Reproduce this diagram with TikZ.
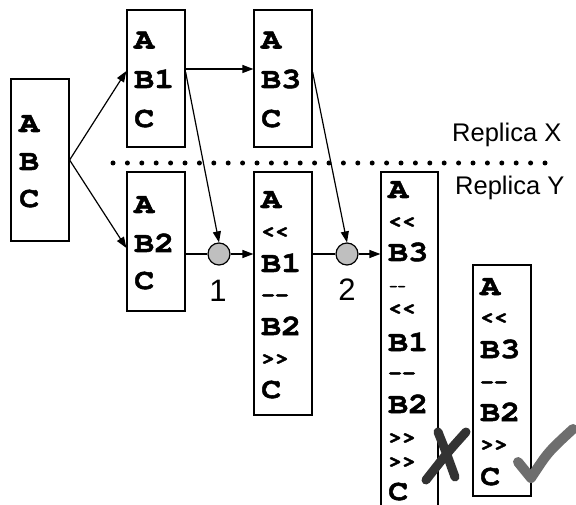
\documentclass[tikz,border=0pt]{standalone}
\usepackage{fontspec}
\newfontfamily\sansf{Liberation Sans}
\newfontfamily\crb[FakeStretch=1.15,FakeBold=1.8]{texgyrecursor-bold.otf}
\newcommand\bigtxt[1]{{\crb\fontsize{29}{31}\selectfont #1}}
\newcommand\smalltxt[1]{{\crb\fontsize{20}{21}\selectfont #1}}
\newcommand\tinytxt[1]{{\crb\fontsize{12}{13}\selectfont #1}}
\usetikzlibrary{arrows.meta}
\begin{document}
\begin{tikzpicture}[x=1pt,y=-1pt,
  box/.style={draw, line width=1.2pt, inner sep=0pt, rectangle},
  big/.style={inner sep=0pt, anchor=base west},
  lbl/.style={font=\sansf\fontsize{25.5}{27}\selectfont, inner sep=0pt},
  num/.style={font=\sansf\fontsize{31}{33}\selectfont, inner sep=0pt},
  arr/.style={line width=1.2pt, -{Triangle[length=11pt,width=8pt]}},
  ln/.style={line width=1.2pt},
  circ/.style={circle, draw, line width=1.2pt, fill=black!25, minimum size=22pt, inner sep=0pt},
  penstroke/.style={line cap=round, line join=round}]
\fill[white] (0,0) rectangle (576,505);
\clip (0,0) rectangle (576,505);
% boxes
\node[box, minimum width=58pt, minimum height=162pt] (b0) at (40,160) {};
\node[box, minimum width=58pt, minimum height=137pt] (b1) at (156,78.5) {};
\node[box, minimum width=58pt, minimum height=137pt] (b2) at (283,78.5) {};
\node[box, minimum width=58pt, minimum height=139pt] (b3) at (156,241.5) {};
\node[box, minimum width=58pt, minimum height=243pt] (b4) at (283,293.5) {};
\node[box, minimum width=57pt, minimum height=346pt] (b5) at (409.5,345) {};
\node[box, minimum width=58pt, minimum height=231pt] (b6) at (502,380.5) {};
% texts
\foreach \yy/\txt [count=\i] in {132/A,170/B,207/C} \node[big] (t0b\i) at (19,\yy) {\bigtxt{\txt}};
\foreach \yy/\txt [count=\i] in {48.5/A,88/B1,127/C} \node[big] (t1b\i) at (134,\yy) {\bigtxt{\txt}};
\foreach \yy/\txt [count=\i] in {48.5/A,88/B3,127/C} \node[big] (t2b\i) at (261,\yy) {\bigtxt{\txt}};
\foreach \yy/\txt [count=\i] in {213/A,252/B2,289/C} \node[big] (t3b\i) at (134,\yy) {\bigtxt{\txt}};
\foreach \yy/\txt [count=\i] in {208/A,272/B1,335/B2,398/C} \node[big] (t4b\i) at (261,\yy) {\bigtxt{\txt}};
\foreach \yy/\txt [count=\i] in {237/<{}<,301/-{}-,364/>{}>} \node[big] (t4s\i) at (261,\yy) {\smalltxt{\txt}};
\foreach \yy/\txt [count=\i] in {198/A,261/B3,351/B1,413/B2,500/C} \node[big] (t5b\i) at (388,\yy) {\bigtxt{\txt}};
\foreach \yy/\txt [count=\i] in {227/<{}<,314/<{}<,379/-{}-,443/>{}>,467/>{}>} \node[big] (t5s\i) at (388,\yy) {\smalltxt{\txt}};
\node[big] (t5t1) at (389,290) {\tinytxt{-{}-}};
\foreach \yy/\txt [count=\i] in {295/A,358/B3,421/B2,485/C} \node[big] (t6b\i) at (480,\yy) {\bigtxt{\txt}};
\foreach \yy/\txt [count=\i] in {323/<{}<,388/-{}-,450/>{}>} \node[big] (t6s\i) at (480,\yy) {\smalltxt{\txt}};
% merge circles
\node[circ] (c1) at (219,254) {};
\node[circ] (c2) at (347,254) {};
\node[num] (n1) at (218,291) {1};
\node[num] (n2) at (347,289.5) {2};
% replica labels and separator
\node[lbl, anchor=base west] (rx) at (452,142) {Replica X};
\node[lbl, anchor=base west] (ry) at (455,195) {Replica Y};
\coordinate (d1) at (113,163);
\coordinate (d2) at (545,163);
\draw[line width=5pt, line cap=round, dash pattern=on 0pt off 14.4pt] (d1) -- (d2);
% connectors
\draw[arr] (b0.east) -- (b1.west |- 0,71);
\draw[arr] (b0.east) -- (b3.west |- 0,248);
\draw[arr] (b1.east |- 0,69) -- (b2.west |- 0,69);
\draw[arr] (b1.east |- 0,72) -- (c1.north);
\draw[ln] (b3.east |- c1) -- (c1.west);
\draw[arr] (c1.east) -- (b4.west |- c1);
\draw[arr] (b2.east |- 0,72) -- (c2.north);
\draw[ln] (b4.east |- c2) -- (c2.west);
\draw[arr] (c2.east) -- (b5.west |- c2);
% cross mark
\draw[penstroke, line width=9pt, black!80] (438,432) .. controls (446,452) .. (455,477);
\draw[penstroke, line width=9pt, black!80] (466,432) .. controls (448,452) .. (426,480);
% check mark
\draw[penstroke, line width=10pt, black!57] (518,462) -- (531,478) .. controls (548,452) .. (573,429);
\end{tikzpicture}
\end{document}
